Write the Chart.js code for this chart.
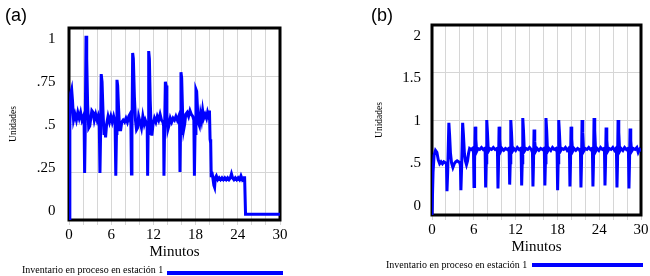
<!DOCTYPE html>
<html>
<head>
<meta charset="utf-8">
<script src="https://cdn.jsdelivr.net/npm/chart.js@4.4.1/dist/chart.umd.min.js"></script>
<style>
  html, body { margin: 0; padding: 0; background: #ffffff; }
  #wrap { position: relative; width: 650px; height: 276px; overflow: hidden; background: #fff; }
  canvas { position: absolute; top: 0; }
  .panel { position: absolute; font-family: "Liberation Sans", Arial, sans-serif; font-size: 18px; color: #000; line-height: 1; }
  .leg { position: absolute; font-family: "Liberation Serif", "Times New Roman", serif; font-size: 10px; color: #000; white-space: nowrap; line-height: 1; }
  .legline { position: absolute; height: 4px; background: #0000ff; }
</style>
</head>
<body>
<div id="wrap">
  <canvas id="chartA" width="325" height="276" style="left:0px;width:325px;height:276px"></canvas>
  <canvas id="chartB" width="325" height="276" style="left:325px;width:325px;height:276px"></canvas>
  <div class="panel" style="left:5px;top:6px">(a)</div>
  <div class="panel" style="left:371px;top:6px">(b)</div>
  <div class="leg" id="legA" style="left:22px;top:265px"></div>
  <div class="legline" style="left:167px;top:271px;width:116px"></div>
  <div class="leg" id="legB" style="left:386px;top:260px"></div>
  <div class="legline" style="left:532px;top:263px;width:111px"></div>
</div>
<script>
// ---------------- DATA ----------------
const seriesName = "Inventario en proceso en estación 1";
const xTitle = "Minutos";
const yTitle = "Unidades";
const xTickValues = [0, 2, 4, 6, 8, 10, 12, 14, 16, 18, 20, 22, 24, 26, 28, 30];
const xTickLabels = ["0", "", "", "6", "", "", "12", "", "", "18", "", "", "24", "", "", "30"];
const yTickValuesA = [0, 0.25, 0.5, 0.75, 1];
const yTickLabelsA = ["0", ".25", ".5", ".75", "1"];
const yTickValuesB = [0, 0.5, 1, 1.5, 2];
const yTickLabelsB = ["0", ".5", "1", "1.5", "2"];

// (a) Inventario en proceso en estación 1  [minuto, unidades]
const inventarioA = [
  [0,0],[0.12,0.5],[0.25,0.66],[0.38,0.68],[0.5,0.62],[0.65,0.52],[0.85,0.55],[1.05,0.52],[1.25,0.56],[1.45,0.53],
  [1.65,0.56],[1.85,0.52],[2.05,0.54],[2.15,0.50],[2.22,0.245],[2.3,0.45],[2.42,0.96],[2.52,0.84],[2.65,0.60],[2.8,0.48],
  [2.95,0.49],[3.1,0.53],[3.25,0.57],[3.45,0.56],[3.6,0.52],[3.8,0.55],[4.0,0.52],[4.15,0.54],[4.3,0.51],[4.4,0.245],
  [4.48,0.42],[4.58,0.76],[4.7,0.72],[4.85,0.55],[4.98,0.45],[5.1,0.47],[5.2,0.43],[5.35,0.50],[5.55,0.54],[5.75,0.51],
  [5.95,0.54],[6.15,0.51],[6.35,0.54],[6.55,0.51],[6.62,0.49],[6.68,0.23],[6.75,0.45],[6.82,0.73],[6.92,0.70],[7.05,0.58],
  [7.2,0.47],[7.35,0.47],[7.5,0.51],[7.7,0.52],[7.9,0.51],[8.1,0.53],[8.3,0.51],[8.5,0.54],[8.65,0.55],[8.8,0.50],
  [8.88,0.24],[8.95,0.45],[9.05,0.87],[9.15,0.84],[9.3,0.64],[9.45,0.52],[9.6,0.47],[9.75,0.48],[9.9,0.54],[10.1,0.51],
  [10.3,0.48],[10.5,0.54],[10.7,0.50],[10.85,0.52],[11.05,0.50],[11.12,0.48],[11.18,0.23],[11.25,0.45],[11.33,0.88],[11.43,0.84],
  [11.55,0.62],[11.68,0.48],[11.78,0.44],[11.95,0.50],[12.15,0.53],[12.35,0.51],[12.55,0.54],[12.75,0.52],[12.95,0.55],[13.15,0.52],
  [13.35,0.51],[13.45,0.49],[13.5,0.23],[13.58,0.45],[13.7,0.72],[13.8,0.70],[13.92,0.55],[14.05,0.47],[14.2,0.49],[14.4,0.53],
  [14.6,0.51],[14.8,0.53],[15.0,0.52],[15.2,0.54],[15.4,0.52],[15.6,0.54],[15.72,0.50],[15.78,0.25],[15.85,0.45],[15.92,0.77],
  [16.02,0.74],[16.15,0.56],[16.3,0.47],[16.45,0.50],[16.6,0.55],[16.8,0.56],[17.0,0.54],[17.2,0.57],[17.4,0.55],[17.6,0.54],
  [17.75,0.52],[17.83,0.23],[17.92,0.45],[18.05,0.68],[18.15,0.67],[18.3,0.56],[18.45,0.50],[18.55,0.49],[18.7,0.55],[18.85,0.52],
  [19.0,0.57],[19.15,0.53],[19.35,0.55],[19.55,0.53],[19.7,0.56],[19.85,0.54],[19.97,0.57],[20.06,0.42],[20.15,0.40],[20.22,0.23],
  [20.32,0.25],[20.45,0.22],[20.6,0.18],[20.7,0.17],[20.8,0.22],[20.95,0.23],[21.15,0.21],[21.35,0.22],[21.55,0.21],[21.75,0.22],
  [21.95,0.21],[22.15,0.22],[22.35,0.21],[22.55,0.22],[22.75,0.21],[22.95,0.22],[23.1,0.24],[23.25,0.22],[23.45,0.21],[23.65,0.22],
  [23.85,0.21],[24.05,0.22],[24.25,0.21],[24.45,0.23],[24.65,0.21],[24.85,0.22],[24.97,0.22],[25.1,0.03],[30,0.03]
];

// (b) Inventario en proceso en estación 1  [minuto, unidades]
const inventarioB = [
  [0,0],[0.15,0.45],[0.3,0.63],[0.5,0.68],[0.7,0.66],[0.9,0.58],[1.1,0.54],[1.3,0.56],[1.5,0.54],[1.7,0.56],
  [1.9,0.55],[2.08,0.54],[2.15,0.25],[2.25,0.45],[2.42,0.97],[2.52,0.85],[2.65,0.65],[2.8,0.55],[3.0,0.50],[3.2,0.54],
  [3.4,0.56],[3.6,0.57],[3.8,0.56],[4.0,0.55],[4.08,0.52],[4.15,0.26],[4.25,0.50],[4.4,0.97],[4.5,0.86],[4.65,0.65],
  [4.8,0.57],[4.95,0.53],[5.1,0.57],[5.25,0.65],[5.4,0.70],[5.6,0.69],[5.8,0.70],[5.96,0.66],
  [6.03,0.30],[6.11,0.55],[6.19,0.93],[6.29,0.80],[6.41,0.67],[6.6,0.70],[6.85,0.69],[7.1,0.71],[7.35,0.69],[7.55,0.70],[7.63,0.66],
  [7.70,0.29],[7.78,0.55],[7.86,1.00],[7.96,0.87],[8.08,0.67],[8.3,0.70],[8.55,0.69],[8.8,0.71],[9.05,0.69],[9.3,0.70],[9.4,0.66],
  [9.47,0.28],[9.55,0.55],[9.63,0.93],[9.73,0.80],[9.85,0.67],[10.05,0.70],[10.3,0.68],[10.55,0.70],[10.8,0.69],[11.0,0.70],[11.08,0.66],
  [11.15,0.32],[11.23,0.55],[11.31,1.00],[11.41,0.87],[11.53,0.67],[11.75,0.70],[12.0,0.68],[12.25,0.71],[12.5,0.69],[12.72,0.70],[12.8,0.66],
  [12.87,0.31],[12.95,0.55],[13.03,1.02],[13.13,0.89],[13.25,0.67],[13.5,0.70],[13.75,0.69],[14.0,0.71],[14.25,0.69],[14.42,0.66],
  [14.49,0.30],[14.57,0.55],[14.65,0.90],[14.75,0.77],[14.87,0.67],[15.1,0.70],[15.35,0.68],[15.6,0.70],[15.85,0.69],[16.05,0.70],[16.13,0.66],
  [16.20,0.31],[16.28,0.55],[16.36,1.02],[16.46,0.89],[16.58,0.67],[16.8,0.70],[17.05,0.68],[17.3,0.71],[17.55,0.69],[17.8,0.70],[17.96,0.66],
  [18.03,0.26],[18.11,0.55],[18.19,1.00],[18.29,0.87],[18.41,0.67],[18.65,0.70],[18.9,0.69],[19.15,0.71],[19.4,0.68],[19.62,0.70],[19.73,0.66],
  [19.80,0.30],[19.88,0.55],[19.96,0.93],[20.06,0.80],[20.18,0.67],[20.4,0.70],[20.65,0.68],[20.9,0.70],[21.15,0.69],[21.31,0.66],
  [21.38,0.29],[21.46,0.55],[21.54,1.00],[21.64,0.87],[21.76,0.67],[22.0,0.70],[22.25,0.69],[22.5,0.71],[22.75,0.69],[22.95,0.70],[23.03,0.66],
  [23.10,0.30],[23.18,0.55],[23.26,1.02],[23.36,0.89],[23.48,0.67],[23.7,0.70],[23.95,0.68],[24.2,0.71],[24.45,0.69],[24.68,0.70],[24.76,0.66],
  [24.83,0.31],[24.91,0.55],[24.99,0.92],[25.09,0.79],[25.21,0.67],[25.45,0.70],[25.7,0.69],[25.95,0.71],[26.2,0.68],[26.4,0.70],[26.48,0.66],
  [26.55,0.29],[26.63,0.55],[26.71,1.00],[26.81,0.87],[26.93,0.67],[27.15,0.70],[27.4,0.68],[27.65,0.71],[27.9,0.69],[28.12,0.70],[28.2,0.66],
  [28.27,0.28],[28.35,0.55],[28.43,0.91],[28.53,0.78],[28.65,0.67],[28.9,0.70],[29.15,0.69],[29.4,0.71],[29.6,0.66],[29.8,0.69],[30.0,0.67]
];

// ---------------- DRAWING ----------------
document.getElementById('legA').textContent = seriesName;
document.getElementById('legB').textContent = seriesName;

const SERIF = "'Liberation Serif', 'Times New Roman', serif";
const GRID = '#d6d6d6';

const framePlugin = {
  id: 'frame',
  beforeDatasetsDraw(chart) {
    const {ctx, chartArea: a} = chart;
    ctx.save();
    ctx.strokeStyle = '#000';
    ctx.lineWidth = 3;
    ctx.strokeRect(a.left, a.top, a.right - a.left, a.bottom - a.top);
    ctx.restore();
  }
};

function makeChart(id, series, cfg) {
  return new Chart(document.getElementById(id), {
    type: 'line',
    data: {
      datasets: [{
        label: seriesName,
        data: series.map(p => ({x: p[0], y: p[1]})),
        borderColor: '#0000ff',
        borderWidth: 3,
        pointRadius: 0,
        tension: 0,
        fill: false
      }]
    },
    options: {
      responsive: false,
      animation: false,
      events: [],
      layout: { padding: cfg.padding },
      plugins: { legend: { display: false }, tooltip: { enabled: false } },
      scales: {
        x: {
          type: 'linear', min: 0, max: 30,
          afterBuildTicks: s => { s.ticks = xTickValues.map(v => ({value: v})); },
          afterFit: s => { s.height = 41; },
          ticks: {
            autoSkip: false, maxRotation: 0, padding: 1,
            color: '#000', font: { family: SERIF, size: 15 },
            callback: (v, i) => xTickLabels[i]
          },
          grid: { color: GRID, lineWidth: 1, drawTicks: true, tickLength: 5 },
          border: { display: false },
          title: { display: true, text: xTitle, color: '#000', font: { family: SERIF, size: 15 }, padding: 0 }
        },
        y: {
          type: 'linear', position: 'left', min: 0, max: cfg.yMax,
          afterBuildTicks: s => { s.ticks = cfg.yVals.map(v => ({value: v})); },
          afterFit: s => { s.width = 0; },
          ticks: { display: false },
          grid: { color: GRID, lineWidth: 1, drawTicks: false },
          border: { display: false }
        },
        ylab: {
          type: 'linear', position: 'left', min: cfg.labMin, max: cfg.labMax,
          afterBuildTicks: s => { s.ticks = cfg.yVals.map(v => ({value: v})); },
          afterFit: s => { s.width = cfg.labWidth; },
          ticks: {
            padding: cfg.labPad, color: '#000', font: { family: SERIF, size: 15 },
            callback: (v, i) => cfg.yLabels[i]
          },
          grid: { display: false, drawTicks: false },
          border: { display: false },
          title: { display: true, text: yTitle, color: '#000', font: { family: SERIF, size: 9.5 }, padding: 0 }
        }
      }
    },
    plugins: [framePlugin]
  });
}

makeChart('chartA', inventarioA, {
  padding: { left: 7.6, top: 28, right: 45, bottom: 15 },
  yMax: 1, yVals: yTickValuesA, yLabels: yTickLabelsA,
  labMin: -0.0523, labMax: 1.064, labWidth: 61.4, labPad: 13.5
});
makeChart('chartB', inventarioB, {
  padding: { left: 48.6, top: 25, right: 9, bottom: 20 },
  yMax: 2, yVals: yTickValuesB, yLabels: yTickLabelsB,
  labMin: -0.1059, labMax: 2.1294, labWidth: 58.4, labPad: 11
});
</script>
</body>
</html>
